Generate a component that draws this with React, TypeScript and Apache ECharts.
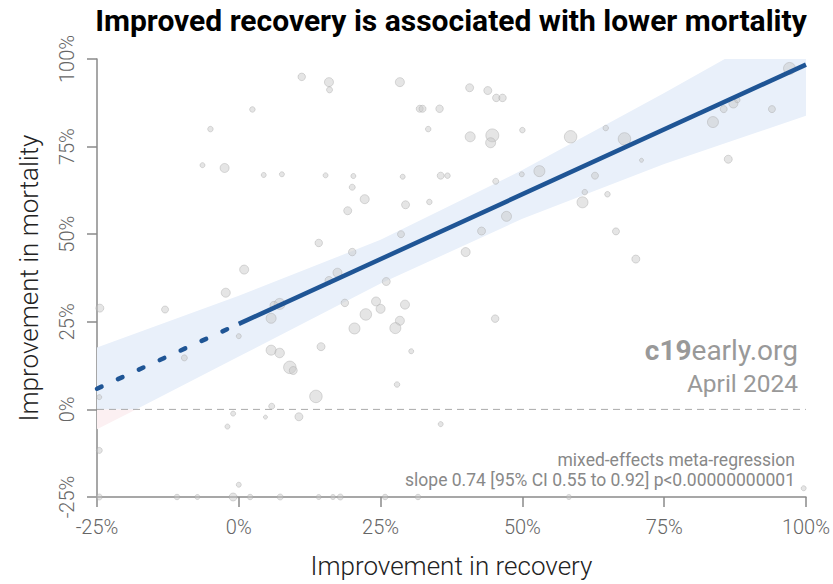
import React, { useEffect, useRef } from 'react';
import * as echarts from 'echarts';

// Study points: improvement in recovery (%), improvement in mortality (%), marker size
const pointX = [
  2.4, -5.0, -6.4, -2.5, 4.4, 0.95, -24.5, -13.0, -2.3, 0, -9.6, 5.7, 5.7, 7.2, -24.6, -24.6, -1.0, -2.0, 4.7, 5.8, 0,
  -24.6, -10.9, -7.3, -1.0, 2.0, 7.3, 14.1, 16.6, 17.9, 25.8, 31.6, 58.2, 99.6,
  11.1, 15.9, 16.0, 28.4, 40.7, 43.9, 45.4, 46.5, 31.9, 32.4, 35.4, 33.4, 40.8, 44.7, 44.4, 50.0,
  7.6, 15.3, 20.2, 28.9, 35.6, 36.8, 20.0, 22.2, 29.4, 33.6, 19.2, 45.3, 49.9, 53.0, 14.1, 28.6, 47.2, 42.8, 20.0, 40.0, 17.4, 15.9, 26.0,
  97.1, 94.0, 87.2, 87.9, 85.5, 83.6, 86.3, 68.0, 64.7, 58.5, 71.0, 62.8, 61.0, 65.0, 60.6, 66.5, 70.0,
  7.2, 6.2, 18.7, 24.2, 25.0, 29.3, 22.4, 28.4, 20.4, 27.6, 14.5, 9.0, 9.6, 30.4, 27.9, 13.6, 10.6, 35.6, 45.2,
];
const pointY = [
  85.6, 80.0, 69.7, 68.9, 66.9, 39.9, 28.9, 28.5, 33.3, 20.9, 14.7, 26.0, 16.9, 16.1, 3.5, -11.7, -1.2, -4.9, -2.2, 0.9, -21.5,
  -25, -25, -25, -25, -25, -25, -25, -25, -25, -25, -25, -25, -22.5,
  94.9, 93.4, 91.2, 93.4, 91.8, 91.0, 88.9, 88.9, 85.8, 85.8, 85.8, 80.0, 77.8, 78.2, 76.1, 79.7,
  67.1, 66.8, 66.6, 66.4, 66.7, 66.7, 63.4, 60.0, 58.4, 59.2, 56.7, 65.1, 67.1, 68.0, 47.5, 50.0, 55.1, 50.9, 44.9, 44.9, 39.0, 36.8, 36.5,
  97.3, 85.7, 87.3, 88.3, 85.7, 82.0, 71.4, 77.2, 80.3, 77.8, 71.1, 66.7, 62.0, 61.4, 59.1, 50.8, 42.9,
  30.1, 29.7, 30.4, 30.8, 28.7, 29.9, 27.1, 25.3, 23.1, 23.2, 17.9, 12.0, 11.1, 16.6, 7.1, 3.7, -2.1, -4.2, 25.9,
];
const pointSize = [
  5.5, 5.5, 5, 9, 5, 9, 8, 7, 9, 5, 6, 10, 10, 9.5, 5, 6, 5, 5, 4, 6, 5,
  6, 5.5, 5, 8, 5.5, 6, 5, 5, 6, 5.5, 5.5, 5, 5,
  7.5, 9, 6, 9, 8, 8, 7.5, 7.5, 7, 7, 7.5, 5.5, 10, 13, 10, 5.5,
  5, 5, 5, 5, 7, 5.5, 6, 9, 8, 5.5, 8, 6, 5, 11, 7.5, 7, 10, 8, 7.5, 9, 9, 8, 8,
  12, 7, 9, 5.5, 7, 11, 8, 12.5, 5.5, 12.5, 4, 7, 5.5, 5.5, 11, 7, 8,
  11, 8, 7.5, 9, 9, 9, 11.5, 9, 11, 11, 8, 12.5, 8, 5, 5.5, 12.5, 8, 5, 7.5,
];

// 95% confidence band of the meta-regression
const ciX = [-25, 0, 25, 50, 75, 100];
const ciUpper = [17.7, 32.4, 48.4, 68.3, 90.3, 113];
const ciLower = [-5.7, 15.1, 35.9, 54.4, 70.0, 83.8];

// fitted line (dashed for extrapolation below 0%)
const fitX = [-25, 0, 100];
const fitY = [5.9, 24.4, 98.4];

const axisMin = -25;
const axisMax = 100;
const axisStep = 25;

const title = 'Improved recovery is associated with lower mortality';
const xName = 'Improvement in recovery';
const yName = 'Improvement in mortality';
const noteLine1 = 'mixed-effects meta-regression';
const noteLine2 = 'slope 0.74 [95% CI 0.55 to 0.92] p<0.00000000001';

type P = number[];
function clipH(pts: P[], yLine: number, keepAbove: boolean): P[] {
  const inside = (p: P) => (keepAbove ? p[1] <= yLine : p[1] >= yLine);
  const inter = (a: P, b: P): P => {
    const t = (yLine - a[1]) / (b[1] - a[1]);
    return [a[0] + t * (b[0] - a[0]), yLine];
  };
  const out: P[] = [];
  const n = pts.length;
  for (let i = 0; i < n; i++) {
    const cur = pts[i];
    const prev = pts[(i + n - 1) % n];
    const ci = inside(cur);
    const pi = inside(prev);
    if (ci) {
      if (!pi) out.push(inter(prev, cur));
      out.push(cur);
    } else if (pi) {
      out.push(inter(prev, cur));
    }
  }
  return out;
}

function bandRender(kind: 'blue' | 'pink') {
  return (params: any, api: any) => {
    const cs = params.coordSys;
    const up = ciX.map((x, i) => api.coord([x, ciUpper[i]]));
    const lo = ciX.map((x, i) => api.coord([x, ciLower[i]])).reverse();
    let poly: P[] = up.concat(lo);
    poly = clipH(poly, cs.y, false);
    poly = clipH(poly, cs.y + cs.height, true);
    const y0 = api.coord([0, 0])[1];
    poly = kind === 'blue' ? clipH(poly, y0, true) : clipH(poly, y0, false);
    if (poly.length < 3) return { type: 'group', children: [] };
    return {
      type: 'polygon',
      shape: { points: poly },
      style: { fill: kind === 'blue' ? '#e9f0fa' : '#fcf0f2' },
      silent: true,
    };
  };
}

export default function App() {
  const ref = useRef<HTMLDivElement>(null);
  useEffect(() => {
    if (!ref.current) return;
    const chart = echarts.init(ref.current, undefined, { renderer: 'svg' });
    const font = 'Roboto';
    const axisCommon = {
      type: 'value' as const,
      min: axisMin,
      max: axisMax,
      interval: axisStep,
      nameLocation: 'middle' as const,
      splitLine: { show: false },
      axisLine: { show: true, onZero: false, lineStyle: { color: '#8a8a8a', width: 1.5 } },
      axisTick: { show: true, length: 10, lineStyle: { color: '#8a8a8a', width: 1.5 } },
      nameTextStyle: { fontFamily: font, fontSize: 26, fontWeight: 300, color: '#222' },
    };
    const points = pointX.map((x, i) => [x, pointY[i], pointSize[i]]);
    chart.setOption({
      animation: false,
      grid: { left: 97, right: 26, top: 59, bottom: 87, containLabel: false },
      xAxis: {
        ...axisCommon,
        name: xName,
        nameGap: 56,
        axisLabel: { formatter: '{value}%', fontFamily: font, fontSize: 20, fontWeight: 300, color: '#666', margin: 20 },
      },
      yAxis: {
        ...axisCommon,
        name: yName,
        nameGap: 55,
        axisLabel: { formatter: '{value}%', fontFamily: font, fontSize: 20, fontWeight: 300, color: '#666', margin: 20, rotate: 90 },
      },
      graphic: [
        {
          type: 'text', x: 451, y: 20, z: 100,
          style: { text: title, font: `bold 30px ${font}`, fill: '#000', align: 'center', verticalAlign: 'middle' },
        },
        {
          type: 'text', x: 798, y: 350, z: 100,
          style: {
            text: '{b|c19}{r|early.org}', align: 'right', verticalAlign: 'middle',
            rich: {
              b: { fontFamily: font, fontSize: 28, fontWeight: 'bold', fill: '#999' },
              r: { fontFamily: font, fontSize: 28, fontWeight: 'normal', fill: '#999' },
            },
          },
        },
        {
          type: 'text', x: 798, y: 383, z: 100,
          style: { text: 'April 2024', font: `24.5px ${font}`, fill: '#999', align: 'right', verticalAlign: 'middle' },
        },
        {
          type: 'text', x: 795, y: 460, z: 100,
          style: { text: noteLine1, font: `17.5px ${font}`, fill: '#888', align: 'right', verticalAlign: 'middle' },
        },
        {
          type: 'text', x: 795, y: 480, z: 100,
          style: { text: noteLine2, font: `17.5px ${font}`, fill: '#888', align: 'right', verticalAlign: 'middle' },
        },
      ],
      series: [
        { type: 'custom', renderItem: bandRender('blue'), data: [[0, 0]], z: 1, silent: true },
        { type: 'custom', renderItem: bandRender('pink'), data: [[0, 0]], z: 1, silent: true },
        {
          type: 'line', data: [[axisMin, 0], [axisMax, 0]], symbol: 'none', z: 2, silent: true,
          lineStyle: { color: '#aaa', width: 1, type: [7, 5] },
        },
        {
          type: 'scatter', data: points, z: 3,
          symbolSize: (v: number[]) => v[2],
          itemStyle: { color: 'rgba(200,200,200,0.6)', borderColor: 'rgba(165,165,165,0.5)', borderWidth: 1 },
        },
        {
          type: 'line', data: [[fitX[0], fitY[0]], [fitX[1], fitY[1]]], symbol: 'none', z: 4, silent: true,
          lineStyle: { color: '#1f5595', width: 4.5, type: [5, 18], cap: 'round' },
        },
        {
          type: 'line', data: [[fitX[1], fitY[1]], [fitX[2], fitY[2]]], symbol: 'none', z: 4, silent: true,
          lineStyle: { color: '#1f5595', width: 4.5 },
        },
      ],
    });
    return () => chart.dispose();
  }, []);
  return <div ref={ref} style={{ position: 'absolute', left: 0, top: 0, width: 833, height: 584 }} />;
}
